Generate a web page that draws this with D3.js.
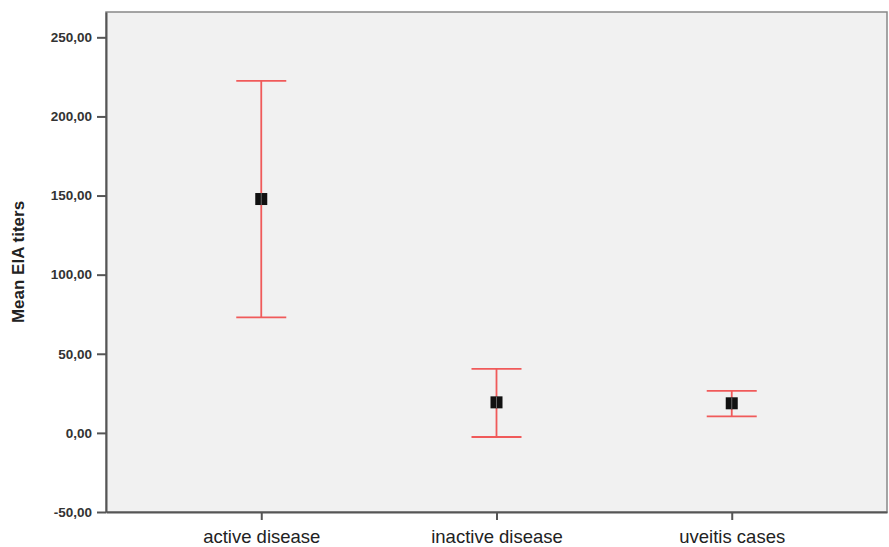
<!DOCTYPE html>
<html>
<head>
<meta charset="utf-8">
<title>Mean EIA titers</title>
<script src="https://d3js.org/d3.v7.min.js"></script>
<style>
  body { margin: 0; background: #fff; }
  svg { display: block; }
</style>
</head>
<body>
<div id="chart"></div>
<script>
// groups, means and error bar ends
const groups = ["active disease", "inactive disease", "uveitis cases"];
const means = [147.8, 19.3, 18.7];
const upper = [222.5, 40.4, 26.5];
const lower = [73.0, -2.6, 10.4];
const yTicks = [-50, 0, 50, 100, 150, 200, 250];

const W = 889, H = 547;
const m = { left: 106, right: 2, top: 12, bottom: 35 };

const svg = d3.select("#chart").append("svg")
    .attr("width", W).attr("height", H);

const y = d3.scaleLinear().domain([-50, 266]).range([H - m.bottom, m.top]);
const x = d3.scalePoint().domain(groups).range([m.left, W - m.right]).padding(0.66);

// plot background
svg.append("rect")
    .attr("x", m.left).attr("y", m.top)
    .attr("width", W - m.right - m.left).attr("height", H - m.bottom - m.top)
    .attr("fill", "#f1f1f1").attr("stroke", "#888").attr("stroke-width", 1.5);

const fmt = d => d3.format(".2f")(d).replace(".", ",").replace("\u2212", "-");

const yAxis = svg.append("g")
    .attr("transform", "translate(" + m.left + ",0)")
    .call(d3.axisLeft(y).tickValues(yTicks).tickFormat(fmt)
        .tickSizeInner(9).tickSizeOuter(0).tickPadding(5));
yAxis.select(".domain").attr("stroke", "#555").attr("stroke-width", 2);
yAxis.selectAll(".tick line").attr("stroke", "#555").attr("stroke-width", 2);
yAxis.selectAll("text").attr("font-family", "Arial, Liberation Sans, sans-serif")
    .attr("font-size", 13.5).attr("font-weight", 600).attr("fill", "#333");

const xAxis = svg.append("g")
    .attr("transform", "translate(0," + (H - m.bottom) + ")")
    .call(d3.axisBottom(x).tickSizeInner(8).tickSizeOuter(0).tickPadding(10));
xAxis.select(".domain").attr("stroke", "#555").attr("stroke-width", 2);
xAxis.selectAll(".tick line").attr("stroke", "#555").attr("stroke-width", 2);
xAxis.selectAll("text").attr("font-family", "Arial, Liberation Sans, sans-serif")
    .attr("font-size", 18.5).attr("fill", "#222");

svg.append("text")
    .attr("transform", "translate(24," + ((m.top + H - m.bottom) / 2) + ") rotate(-90)")
    .attr("text-anchor", "middle")
    .attr("font-family", "Arial, Liberation Sans, sans-serif")
    .attr("font-size", 17).attr("font-weight", "bold").attr("fill", "#222")
    .text("Mean EIA titers");

const red = "#f05a5a", capW = 25;
const g = svg.append("g");
groups.forEach(function (d, i) {
    const cx = x(d);
    g.append("line").attr("x1", cx).attr("x2", cx)
        .attr("y1", y(upper[i])).attr("y2", y(lower[i]))
        .attr("stroke", red).attr("stroke-width", 1.8);
    [upper[i], lower[i]].forEach(function (v) {
        g.append("line").attr("x1", cx - capW).attr("x2", cx + capW)
            .attr("y1", y(v)).attr("y2", y(v))
            .attr("stroke", red).attr("stroke-width", 1.8);
    });
    g.append("rect").attr("x", cx - 6).attr("y", y(means[i]) - 6)
        .attr("width", 12).attr("height", 12).attr("fill", "#111");
    g.append("line").attr("x1", cx).attr("x2", cx)
        .attr("y1", y(means[i]) - 6).attr("y2", y(means[i]) + 6)
        .attr("stroke", "#666").attr("stroke-width", 1);
});
</script>
</body>
</html>
